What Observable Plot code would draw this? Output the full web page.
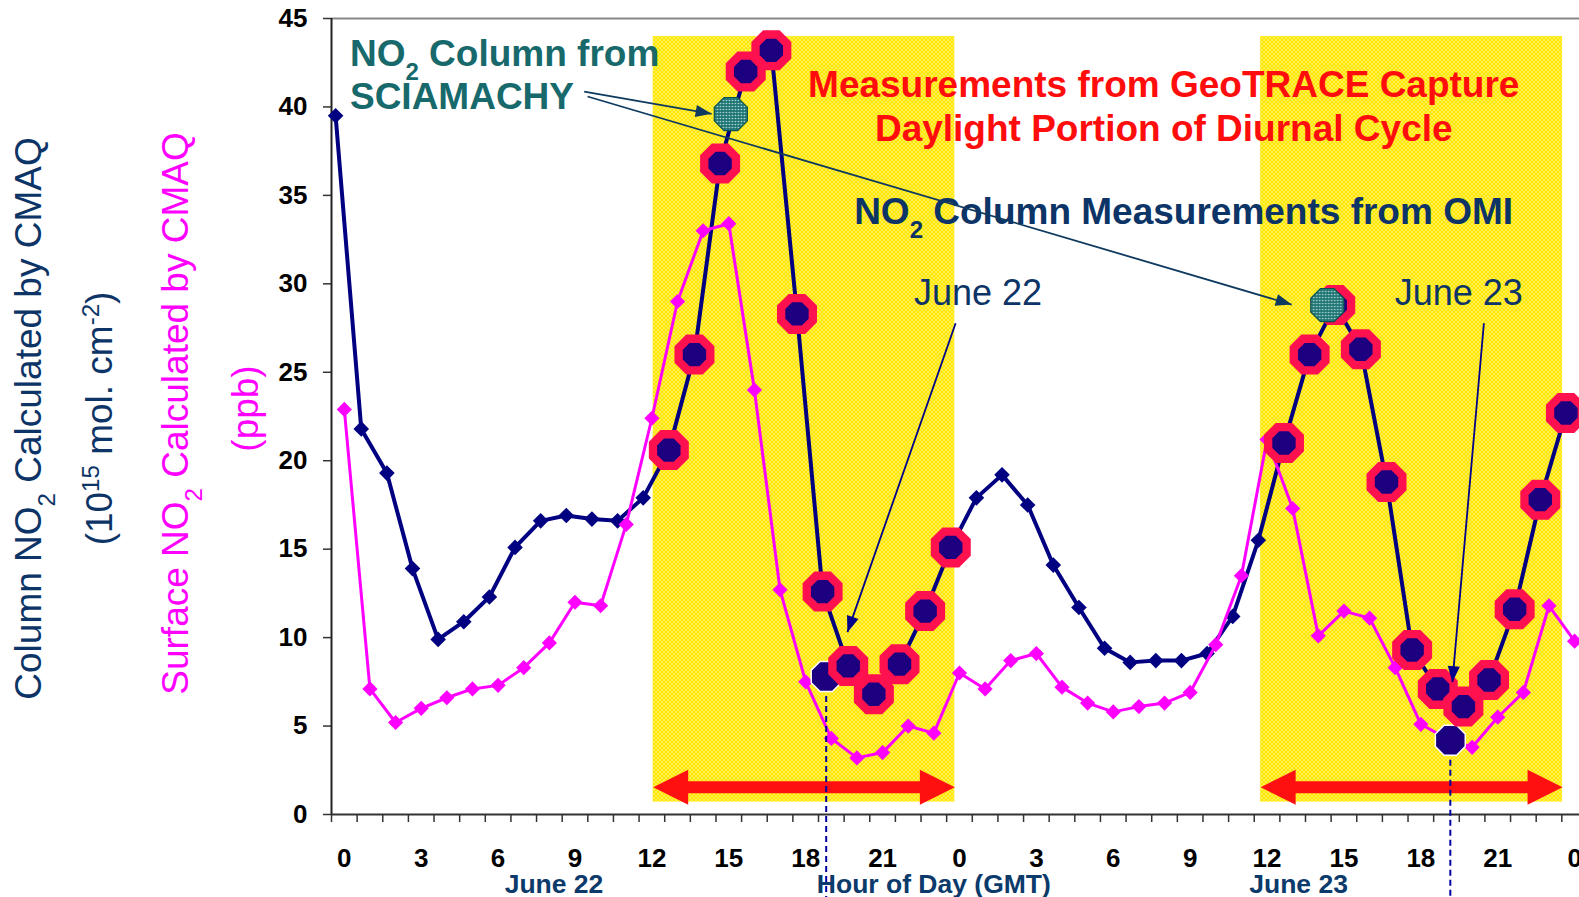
<!DOCTYPE html>
<html>
<head>
<meta charset="utf-8">
<script src="https://cdn.jsdelivr.net/npm/d3@7"></script>
<script src="https://cdn.jsdelivr.net/npm/@observablehq/plot@0.6"></script>
<style>
  html, body { margin: 0; padding: 0; background: #ffffff; }
  #chart { width: 1579px; height: 897px; overflow: hidden; }
</style>
</head>
<body>
<div id="chart"></div>
<script>
// ---------------- DATA ----------------
const hours = [0,1,2,3,4,5,6,7,8,9,10,11,12,13,14,15,16,17,18,19,20,21,22,23,24,
               25,26,27,28,29,30,31,32,33,34,35,36,37,38,39,40,41,42,43,44,45,46,47,48];
// Column NO2 calculated by CMAQ (10^15 mol cm-2)
const columnNO2 = [39.5,21.8,19.3,13.9,9.9,10.9,12.3,15.1,16.6,16.9,16.7,16.6,17.9,
                   20.6,26.0,36.8,42.0,43.2,28.3,12.6,8.4,6.8,8.5,11.5,15.1,
                   17.9,19.2,17.5,14.1,11.7,9.4,8.6,8.7,8.7,9.1,11.2,15.5,
                   21.0,26.0,28.8,26.3,18.8,9.3,7.1,6.1,7.6,11.6,17.8,22.7];
// Surface NO2 calculated by CMAQ (ppb)
const surfaceNO2 = [22.9,7.1,5.2,6.0,6.6,7.1,7.3,8.3,9.7,12.0,11.8,16.4,22.4,
                    29.0,33.0,33.4,24.0,12.7,7.5,4.3,3.2,3.5,5.0,4.6,8.0,
                    7.1,8.7,9.1,7.2,6.3,5.8,6.1,6.3,6.9,9.6,13.5,21.2,
                    17.3,10.1,11.5,11.1,8.3,5.1,4.3,3.8,5.5,6.9,11.8,9.8];
// GeoTRACE-captured (daylight) hours, drawn as octagons on the column curve
const geoTraceHours = [13,14,15,16,17,18,19,20,21,22,23,24,37,38,39,40,41,42,43,44,45,46,47,48];
// SCIAMACHY column measurements
const sciaHours = [15.08, 38.35];
const sciaValues = [39.6, 28.8];
// OMI overpass measurements
const omiHours = [18.8, 43.15];
const omiValues = [7.8, 4.2];
// daylight windows
const daylightStart = [12.05, 35.75];
const daylightEnd = [23.82, 47.53];
const daylightTop = 43.98, daylightBottom = 0.70, arrowLevel = 1.54;
// ticks
const xTickHours = [0,3,6,9,12,15,18,21,24,27,30,33,36,39,42,45,48];
const xTickLabels = ["0","3","6","9","12","15","18","21","0","3","6","9","12","15","18","21","0"];
const yTicks = [0,5,10,15,20,25,30,35,40,45];
const dayLabels = ["June 22", "Hour of Day (GMT)", "June 23"];
const dayLabelHours = [8.18, 23.0, 37.23];

// ---------------- COLORS / STYLE ----------------
const NAVY = "#000080", MAGENTA = "#ff00ff", RED = "#ff1010", RING = "#ff1150",
      INDIGO = "#1d0080", TEAL_TXT = "#17696b", DARK_BLUE = "#0c3466";
const FONT = "'Liberation Sans', Arial, Helvetica, sans-serif";
const NAVY_DX = -8.7;

// ---------------- SYMBOLS ----------------
const octagon = { draw(ctx, size) { const r = Math.sqrt(size / Math.PI);
  for (let k = 0; k < 8; k++) { const a = Math.PI / 8 + k * Math.PI / 4;
    const x = r * Math.cos(a), y = r * Math.sin(a); k ? ctx.lineTo(x, y) : ctx.moveTo(x, y); }
  ctx.closePath(); } };
const diamond = { draw(ctx, size) { const r = Math.sqrt(size / Math.PI);
  ctx.moveTo(0, -r); ctx.lineTo(r, 0); ctx.lineTo(0, r); ctx.lineTo(-r, 0); ctx.closePath(); } };
const makeHead = (ratio) => ({ draw(ctx, size) { const L = 2 * Math.sqrt(size / Math.PI);
  ctx.moveTo(0, 0); ctx.lineTo(-L, -ratio * L); ctx.lineTo(-L, ratio * L); ctx.closePath(); } });
const bigHead = makeHead(0.5), smallHead = makeHead(0.38);

// ---------------- TABLES ----------------
const column = hours.map((h, i) => ({hour: h, value: columnNO2[i]}));
const surface = hours.map((h, i) => ({hour: h, value: surfaceNO2[i]}));
const geoTrace = geoTraceHours.map(h => ({hour: h, value: columnNO2[hours.indexOf(h)]}));
const scia = sciaHours.map((h, i) => ({hour: h, value: sciaValues[i]}));
const omi = omiHours.map((h, i) => ({hour: h, value: omiValues[i]}));
const daylight = daylightStart.map((s, i) => ({start: s, end: daylightEnd[i]}));
const arrowHeads = daylight.flatMap(d => [{x: d.start, rot: 180}, {x: d.end, rot: 0}]);

const xDomain = [-0.5, 48.19];
const W = 1579, H = 897, ML = 331, MR = 0, MT = 18, MB = 83;
const XS = Plot.scale({x: {domain: xDomain, range: [ML, W - MR]}});
const YS = Plot.scale({y: {domain: [0, 45], range: [H - MB, MT]}});

// annotation pointers (data coordinates)
const pointers = [
  {x1: 9.36, y1: 40.87, x2: 14.33, y2: 39.61, color: "#0f3a5f"},
  {x1: 9.49, y1: 40.59, x2: 36.96, y2: 28.83, color: "#0f3a5f"},
  {x1: 23.85, y1: 27.77, x2: 19.63, y2: 10.31, color: "#00008b"},
  {x1: 44.46, y1: 27.77, x2: 43.23, y2: 7.48, color: "#00008b"}
].map(d => ({...d, angle: Math.atan2(YS.apply(d.y2) - YS.apply(d.y1), XS.apply(d.x2) - XS.apply(d.x1)) * 180 / Math.PI}));

const boldNotes = [
  {text: "NO₂ Column from", x: 0.22, y: 42.34, fill: TEAL_TXT, anchor: "start"},
  {text: "SCIAMACHY", x: 0.22, y: 39.90, fill: TEAL_TXT, anchor: "start"},
  {text: "Measurements from GeoTRACE Capture", x: 31.97, y: 40.55, fill: "#ff0d0d", anchor: "middle"},
  {text: "Daylight Portion of Diurnal Cycle", x: 31.97, y: 38.10, fill: "#ff0d0d", anchor: "middle"},
  {text: "NO₂ Column Measurements from OMI", x: 19.89, y: 33.39, fill: DARK_BLUE, anchor: "start"}
];
const dateNotes = [
  {text: "June 22", x: 24.72, y: 28.83},
  {text: "June 23", x: 43.48, y: 28.83}
];

const titles = [
  {text: "Column NO₂ Calculated by CMAQ", dx: -302, dy: 2, fill: DARK_BLUE},
  {text: "(10¹⁵ mol. cm⁻²)", dx: -231, dy: 2, fill: DARK_BLUE},
  {text: "Surface NO₂ Calculated by CMAQ", dx: -155, dy: -3, fill: MAGENTA},
  {text: "(ppb)", dx: -85, dy: -8, fill: MAGENTA}
];

const boundaries = hours.map(h => h - 0.5);

const plot = Plot.plot({
  width: W, height: H,
  marginLeft: ML, marginRight: MR, marginTop: MT, marginBottom: MB,
  style: {fontFamily: FONT, background: "#ffffff", overflow: "visible"},
  x: {domain: xDomain, axis: null},
  y: {domain: [0, 45], axis: null},
  marks: [
    // daylight shading
    Plot.rect(daylight, {x1: "start", x2: "end", y1: daylightBottom, y2: daylightTop, fill: "#ffe600"}),
    // frame top line
    Plot.ruleY([45], {stroke: "#888888", strokeWidth: 2}),
    // ticks
    Plot.axisX({ticks: boundaries, tickSize: 8, tickFormat: () => "", label: null, stroke: "#333", strokeWidth: 1.5}),
    Plot.axisY({ticks: yTicks, tickSize: 8, tickFormat: () => "", label: null, stroke: "#333", strokeWidth: 1.5}),
    // axes lines
    Plot.ruleY([0], {stroke: "#333333", strokeWidth: 2}),
    Plot.ruleX([-0.5], {y1: 0, y2: 45, stroke: "#222222", strokeWidth: 2}),
    // red double arrows
    Plot.ruleY(daylight, {y: arrowLevel, x1: "start", x2: "end", stroke: RED, strokeWidth: 12, insetLeft: 25, insetRight: 25}),
    Plot.dot(arrowHeads, {x: "x", y: arrowLevel, rotate: "rot", symbol: bigHead, r: 17.5, fill: RED, stroke: "none"}),
    // column NO2
    Plot.line(column, {x: "hour", y: "value", stroke: NAVY, strokeWidth: 4, dx: NAVY_DX}),
    Plot.dot(column, {x: "hour", y: "value", symbol: diamond, r: 7.8, fill: NAVY, stroke: "none", dx: NAVY_DX}),
    // surface NO2
    Plot.line(surface, {x: "hour", y: "value", stroke: MAGENTA, strokeWidth: 3}),
    Plot.dot(surface, {x: "hour", y: "value", symbol: diamond, r: 7.6, fill: MAGENTA, stroke: "none"}),
    // OMI overpass dashed lines and markers
    Plot.ruleX(omi, {x: "hour", y1: "value", y2: -4.8, stroke: "#0000a0", strokeWidth: 2, strokeDasharray: "6,4"}),
    Plot.dot(omi, {x: "hour", y: "value", symbol: octagon, r: 16.2, fill: INDIGO, stroke: "#ffffff", strokeWidth: 1.5}),
    // GeoTRACE captured octagons
    Plot.dot(geoTrace, {x: "hour", y: "value", symbol: octagon, r: 17.15, fill: INDIGO, stroke: RING, strokeWidth: 8.3, strokeLinejoin: "miter", dx: NAVY_DX}),
    // SCIAMACHY
    Plot.dot(scia, {x: "hour", y: "value", symbol: octagon, r: 17.9, fill: "#2a7f7f", stroke: "#0d4f4f", strokeWidth: 1.2}),
    // annotation texts
    Plot.text(boldNotes.filter(d => d.anchor === "start"), {x: "x", y: "y", text: "text", fill: "fill", fontWeight: "bold", textAnchor: "start", lineAnchor: "bottom", fontSize: 37}),
    Plot.text(boldNotes.filter(d => d.anchor === "middle"), {x: "x", y: "y", text: "text", fill: "fill", fontWeight: "bold", textAnchor: "middle", lineAnchor: "bottom", fontSize: 37}),
    Plot.text(dateNotes, {x: "x", y: "y", text: "text", fill: DARK_BLUE, fontWeight: "normal", textAnchor: "middle", lineAnchor: "bottom", fontSize: 36}),
    // pointers
    Plot.link(pointers, {x1: "x1", y1: "y1", x2: "x2", y2: "y2", stroke: "color", strokeWidth: 1.8}),
    Plot.dot(pointers, {x: "x2", y: "y2", rotate: "angle", symbol: smallHead, r: 8, fill: "color", stroke: "none"}),
    // tick labels
    Plot.text(xTickHours, {x: d => d, y: 0, text: (d, i) => xTickLabels[i], dy: 52.7, lineAnchor: "bottom", fontSize: 26, fontWeight: "bold", fill: "#000"}),
    Plot.text(yTicks, {x: -0.5, y: d => d, text: d => String(d), dx: -24, textAnchor: "end", lineAnchor: "middle", fontSize: 26, fontWeight: "bold", fill: "#000"}),
    Plot.text(dayLabels, {x: (d, i) => dayLabelHours[i], y: 0, text: d => d, dy: 78, lineAnchor: "bottom", fontSize: 26.5, fontWeight: "bold", fill: "#0b3a6b"}),
    // y titles
    ...titles.map(t => Plot.text([t.text], {frameAnchor: "left", rotate: -90, dx: t.dx, dy: t.dy, fill: t.fill, fontSize: 37, textAnchor: "middle", lineAnchor: "middle"}))
  ]
});

// ---- patterns ----
const svgSel = d3.select(plot);
const defs = svgSel.insert("defs", ":first-child");
const yp = defs.append("pattern").attr("id", "yellowPat").attr("patternUnits", "userSpaceOnUse").attr("width", 4).attr("height", 4);
yp.append("rect").attr("width", 4).attr("height", 4).attr("fill", "#ffe800");
[[0,0],[4,0],[0,4],[4,4],[2,2]].forEach(([cx, cy]) => yp.append("circle").attr("cx", cx).attr("cy", cy).attr("r", 0.75).attr("fill", "#fff8c0"));
const tp = defs.append("pattern").attr("id", "tealPat").attr("patternUnits", "userSpaceOnUse").attr("width", 3).attr("height", 3);
tp.append("rect").attr("width", 3).attr("height", 3).attr("fill", "#1f7474");
tp.append("circle").attr("cx", 1.5).attr("cy", 1.5).attr("r", 0.8).attr("fill", "#bfe3e0");
svgSel.selectAll('[fill="#ffe600"]').attr("fill", "url(#yellowPat)");
svgSel.selectAll('[fill="#2a7f7f"]').attr("fill", "url(#tealPat)");

// ---- sub/superscripts ----
const SUB = {"₂": "2"}, SUP = {"¹": "1", "⁵": "5", "⁻": "-", "²": "2"};
plot.querySelectorAll("text, tspan").forEach(el => {
  Array.from(el.childNodes).forEach(n => {
    if (n.nodeType !== 3) return;
    const s = n.nodeValue;
    if (![...s].some(c => SUB[c] || SUP[c])) return;
    const frag = document.createDocumentFragment();
    let run = "", kind = "n";
    const flush = () => {
      if (!run) return;
      if (kind === "n") frag.appendChild(document.createTextNode(run));
      else {
        const t = document.createElementNS("http://www.w3.org/2000/svg", "tspan");
        t.setAttribute("font-size", "65%");
        t.setAttribute("baseline-shift", kind === "b" ? "sub" : "super");
        t.textContent = run;
        frag.appendChild(t);
      }
      run = "";
    };
    for (const c of s) {
      const k = SUB[c] ? "b" : SUP[c] ? "p" : "n";
      if (k !== kind) { flush(); kind = k; }
      run += SUB[c] || SUP[c] || c;
    }
    flush();
    el.replaceChild(frag, n);
  });
});

document.getElementById("chart").appendChild(plot);
</script>
</body>
</html>
